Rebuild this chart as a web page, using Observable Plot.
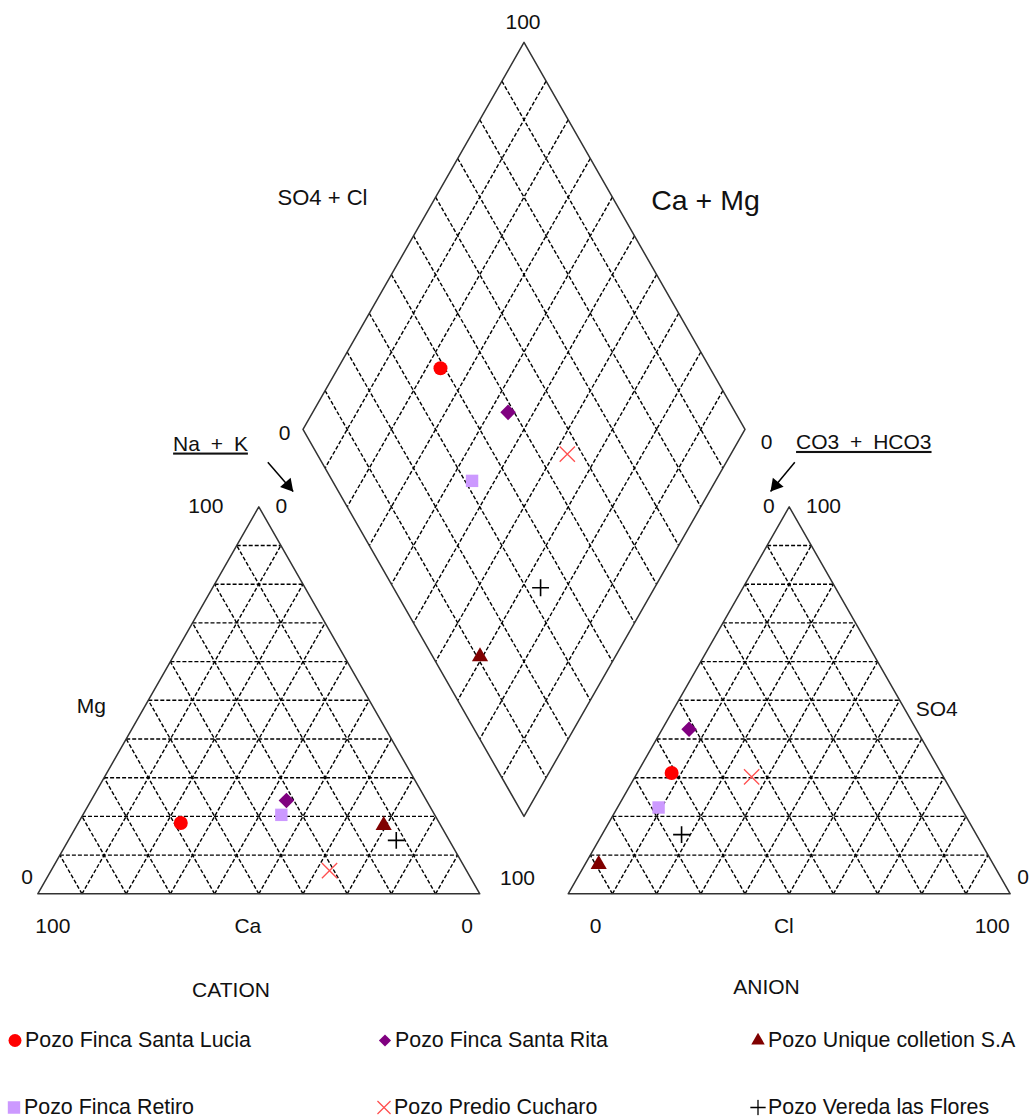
<!DOCTYPE html>
<html><head><meta charset="utf-8">
<script src="https://cdn.jsdelivr.net/npm/d3@7"></script>
<script src="https://cdn.jsdelivr.net/npm/@observablehq/plot@0.6"></script>
<style>
body{margin:0;background:#fff;font-family:"Liberation Sans",Arial,sans-serif;}
#legend{position:relative;width:1032px;height:110px;}
.item{position:absolute;display:flex;align-items:center;font-size:21.4px;color:#111;white-space:nowrap;transform:translateY(-50%);}
.item svg{margin-right:2px;}
</style></head><body>
<div id="chart"></div><div id="legend"></div>
<script>
// ---- data (percent of meq) ----
const wells = ["Pozo Finca Santa Lucia", "Pozo Finca Santa Rita", "Pozo Unique colletion S.A", "Pozo Finca Retiro", "Pozo Predio Cucharo", "Pozo Vereda las Flores"];
const ca   = [58.5, 31.7, 12.9, 34.7, 31.0, 12.0];
const mg   = [18.3, 24.1, 17.7, 20.4,  6.0, 13.8];
const naK  = [23.2, 44.2, 69.4, 44.9, 63.0, 74.2];
const hco3 = [61.0, 51.4, 89.3, 68.4, 43.4, 66.7];
const so4  = [31.2, 42.5,  7.6, 22.3, 30.2, 15.3];
const cl   = [ 7.8,  6.1,  3.1,  9.3, 26.4, 18.0];
const symbols = ["circle", "diamond2", "triangle", "square", "times", "plus"];
const colors  = ["#ff0000", "#800080", "#800000", "#cc99ff", "#ff5050", "#000000"];
const filled  = [true, true, true, true, false, false];
const gridTicks = [10, 20, 30, 40, 50, 60, 70, 80, 90];

// ---- geometry (abstract units: triangle side = 1, height = 1) ----
const G = 0.2;
const cat = (c, m, n) => ({x: (n + m / 2) / 100, y: m / 100});
const ani = (h, s, c) => ({x: 1 + G + (c + s / 2) / 100, y: s / 100});
const dia = (n, h) => ({x: 1 + G / 2 + (n - h) / 200, y: 2 + G - (n + h) / 100});
const V = {
  CL: cat(100, 0, 0), CR: cat(0, 0, 100), CT: cat(0, 100, 0),
  AL: ani(100, 0, 0), AR: ani(0, 0, 100), AT: ani(0, 100, 0),
  DB: dia(100, 100), DL: dia(0, 100), DR: dia(100, 0), DT: dia(0, 0)
};
const mid = (a, b) => ({x: (a.x + b.x) / 2, y: (a.y + b.y) / 2});

const segs = [];
for (const k of gridTicks) {
  segs.push([cat(100 - k, k, 0), cat(0, k, 100 - k)]);
  segs.push([cat(100 - k, 0, k), cat(0, 100 - k, k)]);
  segs.push([cat(k, 0, 100 - k), cat(k, 100 - k, 0)]);
  segs.push([ani(100 - k, k, 0), ani(0, k, 100 - k)]);
  segs.push([ani(100 - k, 0, k), ani(0, 100 - k, k)]);
  segs.push([ani(k, 0, 100 - k), ani(k, 100 - k, 0)]);
  segs.push([dia(k, 0), dia(k, 100)]);
  segs.push([dia(0, k), dia(100, k)]);
}
const outlines = [
  [V.CL, V.CR, V.CT, V.CL].map(p => ({...p, g: "c"})),
  [V.AL, V.AR, V.AT, V.AL].map(p => ({...p, g: "a"})),
  [V.DB, V.DR, V.DT, V.DL, V.DB].map(p => ({...p, g: "d"}))
].flat();

const idx = d3.range(wells.length);
const pts = idx.map(i => ({
  i,
  c: cat(ca[i], mg[i], naK[i]),
  a: ani(hco3[i], so4[i], cl[i]),
  d: dia(naK[i], hco3[i])
}));

const labels = [
  {t: "100", at: V.DT, dx: -1, dy: -20},
  {t: "SO4 + Cl", at: V.DT, dx: -201.5, dy: 156, size: 22},
  {t: "Ca + Mg", at: V.DT, dx: 181.5, dy: 158, size: 28.5},
  {t: "0", at: V.DL, dx: -18.5, dy: 4},
  {t: "0", at: V.DR, dx: 21.5, dy: 13},
  {t: "Na + K", at: V.CT, dx: -48.3, dy: -63, u: true, ws: 5},
  {t: "100", at: V.CT, dx: -53, dy: -1},
  {t: "0", at: V.CT, dx: 22.5, dy: -1},
  {t: "CO3 + HCO3", at: V.AT, dx: 74.6, dy: -64.6, u: true, ws: 5},
  {t: "0", at: V.AT, dx: -20.4, dy: -1},
  {t: "100", at: V.AT, dx: 34.3, dy: -1},
  {t: "0", at: V.CL, dx: -10.6, dy: -16.6},
  {t: "100", at: V.CL, dx: 15, dy: 32},
  {t: "Ca", at: mid(V.CL, V.CR), dx: -11, dy: 32},
  {t: "0", at: V.CR, dx: -12.6, dy: 32},
  {t: "100", at: V.CR, dx: 37.7, dy: -15.3},
  {t: "Mg", at: mid(V.CL, V.CT), dx: -57, dy: 6},
  {t: "0", at: V.AL, dx: 27.3, dy: 32},
  {t: "Cl", at: mid(V.AL, V.AR), dx: -5.4, dy: 32},
  {t: "100", at: V.AR, dx: -18, dy: 32},
  {t: "SO4", at: mid(V.AR, V.AT), dx: 37, dy: 8.5},
  {t: "0", at: V.AR, dx: 13, dy: -16.6},
  {t: "CATION", at: mid(V.CL, V.CR), dx: -27.8, dy: 96.7},
  {t: "ANION", at: mid(V.AL, V.AR), dx: -22.7, dy: 93.7}
];

// arrows (anchored to triangle apexes)
const arrows = [
  {s: {x: V.CT.x + 0.0204, y: V.CT.y + 0.1153}, e: {x: V.CT.x + 0.0778, y: V.CT.y + 0.0395}, rot: 139.1, hx: -5.2, hy: -6.0},
  {s: {x: V.AT.x + 0.0127, y: V.AT.y + 0.1153}, e: {x: V.AT.x - 0.0422, y: V.AT.y + 0.0395}, rot: 219.7, hx: 5.1, hy: -6.2}
];

const marks = [
  Plot.link(segs, {x1: d => d[0].x, y1: d => d[0].y, x2: d => d[1].x, y2: d => d[1].y,
    stroke: "#000", strokeWidth: 1.4, strokeDasharray: "4,2"}),
  Plot.line(outlines, {x: "x", y: "y", z: "g", stroke: "#333", strokeWidth: 1.5})
];
labels.forEach((L, j) => {
  marks.push(Plot.text([L], {x: d => d.at.x, y: d => d.at.y, text: "t", dx: L.dx, dy: L.dy,
    fontSize: L.size || 21, fill: "#111", className: "lab" + j}));
});
for (const A of arrows) {
  marks.push(Plot.link([A], {x1: d => d.s.x, y1: d => d.s.y, x2: d => d.e.x, y2: d => d.e.y, stroke: "#000", strokeWidth: 1.5}));
  marks.push(Plot.dot([A], {x: d => d.e.x, y: d => d.e.y, symbol: "triangle", r: 5.2, fill: "#000", stroke: "none", rotate: A.rot, dx: A.hx, dy: A.hy}));
}
const rFor = s => s === "triangle" ? 6 : s === "plus" ? 5.5 : 7;
for (const p of pts) {
  const i = p.i;
  const opts = filled[i]
    ? {symbol: symbols[i], r: rFor(symbols[i]), fill: colors[i], stroke: "none"}
    : {symbol: symbols[i], r: rFor(symbols[i]), fill: "none", stroke: colors[i], strokeWidth: symbols[i] === "plus" ? 1.6 : 1.3};
  for (const key of ["c", "a", "d"]) {
    marks.push(Plot.dot([p], {x: d => d[key].x, y: d => d[key].y, ...opts}));
  }
}

const chart = Plot.plot({
  width: 1032, height: 1010,
  margin: 0,
  x: {type: "linear", domain: [0, 1], range: [37.3, 479.3], axis: null},
  y: {type: "linear", domain: [0, 1], range: [893.3, 506.3], axis: null},
  style: {fontFamily: "'Liberation Sans', Arial, sans-serif", background: "#fff", overflow: "visible"},
  marks
});
labels.forEach((L, j) => {
  chart.querySelectorAll(".lab" + j + " text, text.lab" + j).forEach(t => {
    if (L.u) t.style.textDecoration = "underline";
    if (L.ws) t.style.wordSpacing = L.ws + "px";
  });
});
document.getElementById("chart").appendChild(chart);

// ---- legend ----
const legendPos = [
  {tx: 25, ty: 30}, {tx: 395, ty: 30}, {tx: 768, ty: 30},
  {tx: 24, ty: 97}, {tx: 394, ty: 97}, {tx: 768, ty: 97}
];
const legendR = {circle: 6.5, diamond2: 5.5, triangle: 5, square: 7, times: 6, plus: 5};
const symMap = {circle: d3.symbolCircle, diamond2: d3.symbolDiamond2, triangle: d3.symbolTriangle, square: d3.symbolSquare, times: d3.symbolTimes, plus: d3.symbolPlus};
const leg = document.getElementById("legend");
idx.forEach(i => {
  const div = document.createElement("div");
  div.className = "item";
  div.style.left = (legendPos[i].tx - 18) + "px";
  div.style.top = legendPos[i].ty + "px";
  const r = legendR[symbols[i]];
  const path = d3.symbol(symMap[symbols[i]], Math.PI * r * r)();
  const f = filled[i] ? colors[i] : "none", s = filled[i] ? "none" : colors[i];
  div.innerHTML = `<svg width="16" height="16" viewBox="-8 -8 16 16"><path d="${path}" fill="${f}" stroke="${s}" stroke-width="1.3"/></svg><span>${wells[i]}</span>`;
  leg.appendChild(div);
});
</script>
</body></html>
